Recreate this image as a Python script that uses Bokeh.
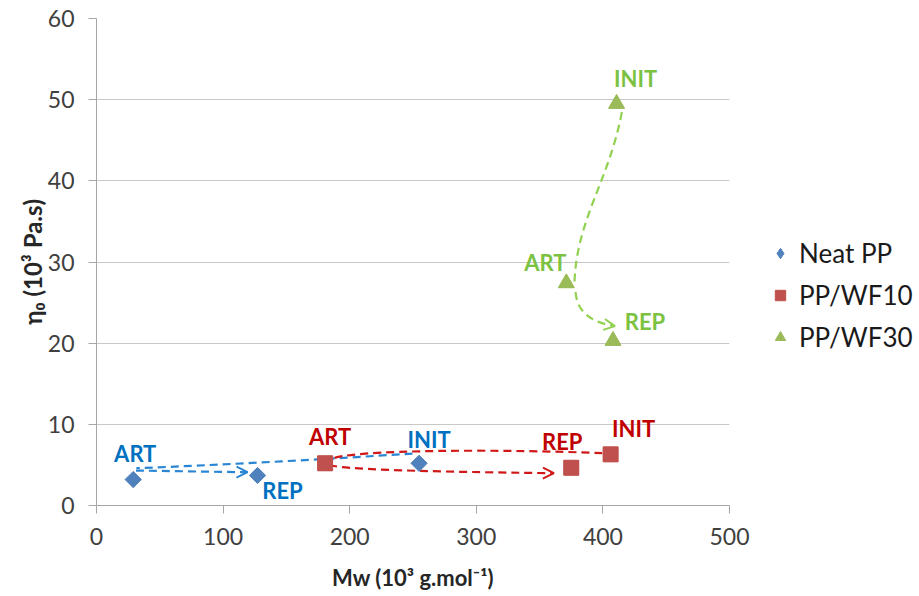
import math
from bokeh.plotting import figure
from bokeh.models import Range1d, Legend, LegendItem, Arrow, OpenHead, ColumnDataSource, SingleIntervalTicker
from bokeh.core.properties import value
from bokeh.embed import file_html
from bokeh.resources import INLINE

# ---------------- data ----------------
series = ["Neat PP", "PP/WF10", "PP/WF30"]
states = ["INIT", "ART", "REP"]
neat_mw = [254.8, 29.0, 127.2]
neat_eta = [5.2, 3.2, 3.7]
wf10_mw = [406.1, 180.6, 375.0]
wf10_eta = [6.3, 5.2, 4.65]
wf30_mw = [410.8, 371.1, 408.0]
wf30_eta = [49.5, 27.4, 20.3]

x_ticks = [0, 100, 200, 300, 400, 500]
y_ticks = [0, 10, 20, 30, 40, 50, 60]

# dashed evolution paths (cubic bezier: x0, y0, cx0, cy0, cx1, cy1, x1, y1), data units
neat_paths = [
    (249.6, 6.4, 180.0, 5.7, 100.0, 5.0, 31.5, 4.6),     # INIT -> ART
    (31.2, 4.3, 60.0, 4.25, 90.0, 4.15, 119.3, 4.1),     # ART -> REP
]
wf10_paths = [
    (399.5, 6.45, 330.0, 6.9, 195.0, 7.0, 184.0, 5.6),  # INIT -> ART
    (184.0, 5.0, 195.0, 4.3, 300.0, 4.1, 361.3, 3.98),  # ART -> REP
]
wf30_paths = [
    (415.0, 48.5, 405.0, 40.0, 378.0, 35.0, 377.5, 27.0),   # INIT -> ART
    (378.4, 26.3, 379.5, 23.97, 389.8, 22.57, 409.5, 22.1), # ART -> REP
]

# label offsets in pixels (INIT, ART, REP)
neat_lbl_dx = [10, 2, 25]
neat_lbl_dy = [-24, -26, 15]
wf10_lbl_dx = [23, 5, -9]
wf10_lbl_dy = [-26, -27, -26]
wf30_lbl_dx = [19, -21, 32]
wf30_lbl_dy = [-25, -21, -19]

# ---------------- styling ----------------
FONT = "Lato"
marker_colors = ["#4F81BD", "#C0504D", "#9BBB59"]
text_colors = ["#0070C0", "#C00000", "#7CC242"]
path_colors = ["#2A86D4", "#D01818", "#92D050"]
markers = ["square", "square", "triangle"]
legend_markers = ["diamond", "square", "triangle"]
marker_sizes = [11.5, 15, 16]
legend_sizes = [15, 15, 16]
marker_angles = [math.pi / 4, 0, 0]

p = figure(frame_width=633, frame_height=487, output_backend="svg", toolbar_location=None,
           x_range=Range1d(0, 500), y_range=Range1d(0, 60),
           min_border_left=96, min_border_top=18, min_border_bottom=83, min_border_right=0)
p.outline_line_color = None
p.background_fill_color = "white"
p.border_fill_color = "white"
p.xgrid.visible = False
p.ygrid.grid_line_color = "#C8C8C8"
p.ygrid.ticker = SingleIntervalTicker(interval=10)

for ax in (p.xaxis[0], p.yaxis[0]):
    ax.axis_line_color = "#A6A6A6"
    ax.major_tick_line_color = "#A6A6A6"
    ax.minor_tick_line_color = None
    ax.major_tick_in = 0
    ax.major_tick_out = 8
    ax.major_label_text_font = FONT
    ax.major_label_text_font_size = "23px"
    ax.major_label_text_color = "#404040"
    ax.axis_label_text_font = FONT
    ax.axis_label_text_font_style = "bold"
    ax.axis_label_text_font_size = "22px"
    ax.axis_label_text_color = "#262626"

p.xaxis.ticker = x_ticks
p.yaxis.ticker = y_ticks
p.xaxis.major_label_standoff = 14
p.yaxis.major_label_standoff = 14
p.xaxis.axis_label = "Mw (10³ g.mol⁻¹)"
p.yaxis.axis_label = "η₀ (10³ Pa.s)"
p.xaxis.axis_label_standoff = 16
p.yaxis.axis_label_standoff = -2
p.yaxis.axis_label_text_font_size = "24px"

all_x = [neat_mw, wf10_mw, wf30_mw]
all_y = [neat_eta, wf10_eta, wf30_eta]
all_paths = [neat_paths, wf10_paths, wf30_paths]
all_dx = [neat_lbl_dx, wf10_lbl_dx, wf30_lbl_dx]
all_dy = [neat_lbl_dy, wf10_lbl_dy, wf30_lbl_dy]

for i in range(3):
    paths = all_paths[i]
    src = ColumnDataSource(dict(
        x0=[q[0] for q in paths], y0=[q[1] for q in paths],
        cx0=[q[2] for q in paths], cy0=[q[3] for q in paths],
        cx1=[q[4] for q in paths], cy1=[q[5] for q in paths],
        x1=[q[6] for q in paths], y1=[q[7] for q in paths]))
    p.bezier(x0="x0", y0="y0", cx0="cx0", cy0="cy0", cx1="cx1", cy1="cy1", x1="x1", y1="y1",
             source=src, line_color=path_colors[i], line_width=2.2, line_dash="8 5")
    last = paths[1]
    p.add_layout(Arrow(end=OpenHead(size=11, line_color=path_colors[i], line_width=2),
                       x_start=last[4], y_start=last[5], x_end=last[6], y_end=last[7],
                       line_alpha=0))

legend_renderers = []
for i in range(3):
    # legend proxy (hidden under the main marker)
    lr = p.scatter(all_x[i], all_y[i], marker=legend_markers[i], size=legend_sizes[i] - 1,
                   fill_color=marker_colors[i], line_color=marker_colors[i])
    legend_renderers.append(lr)
    p.scatter(all_x[i], all_y[i], marker=markers[i], size=marker_sizes[i],
              angle=marker_angles[i],
              fill_color=marker_colors[i], line_color=marker_colors[i])
    lsrc = ColumnDataSource(dict(x=all_x[i], y=all_y[i], t=states,
                                 dx=all_dx[i], dy=all_dy[i]))
    p.text(x="x", y="y", text="t", x_offset="dx", y_offset="dy", source=lsrc,
           text_font=value(FONT), text_font_style="bold", text_font_size="22px",
           text_color=text_colors[i], text_align="center", text_baseline="middle")

legend = Legend(items=[LegendItem(label=series[i], renderers=[legend_renderers[i]]) for i in range(3)],
                location=(38, 152))
legend.border_line_color = None
legend.background_fill_alpha = 0
legend.padding = 0
legend.margin = 20
legend.spacing = 10
legend.glyph_width = 26
legend.glyph_height = 30
legend.label_height = 30
legend.label_standoff = 6
legend.label_text_font = FONT
legend.label_text_font_size = "26px"
legend.label_text_color = "#1A1A1A"
legend.label_text_baseline = "middle"
p.add_layout(legend, "right")

open("out.html", "w").write(file_html(p, INLINE))
